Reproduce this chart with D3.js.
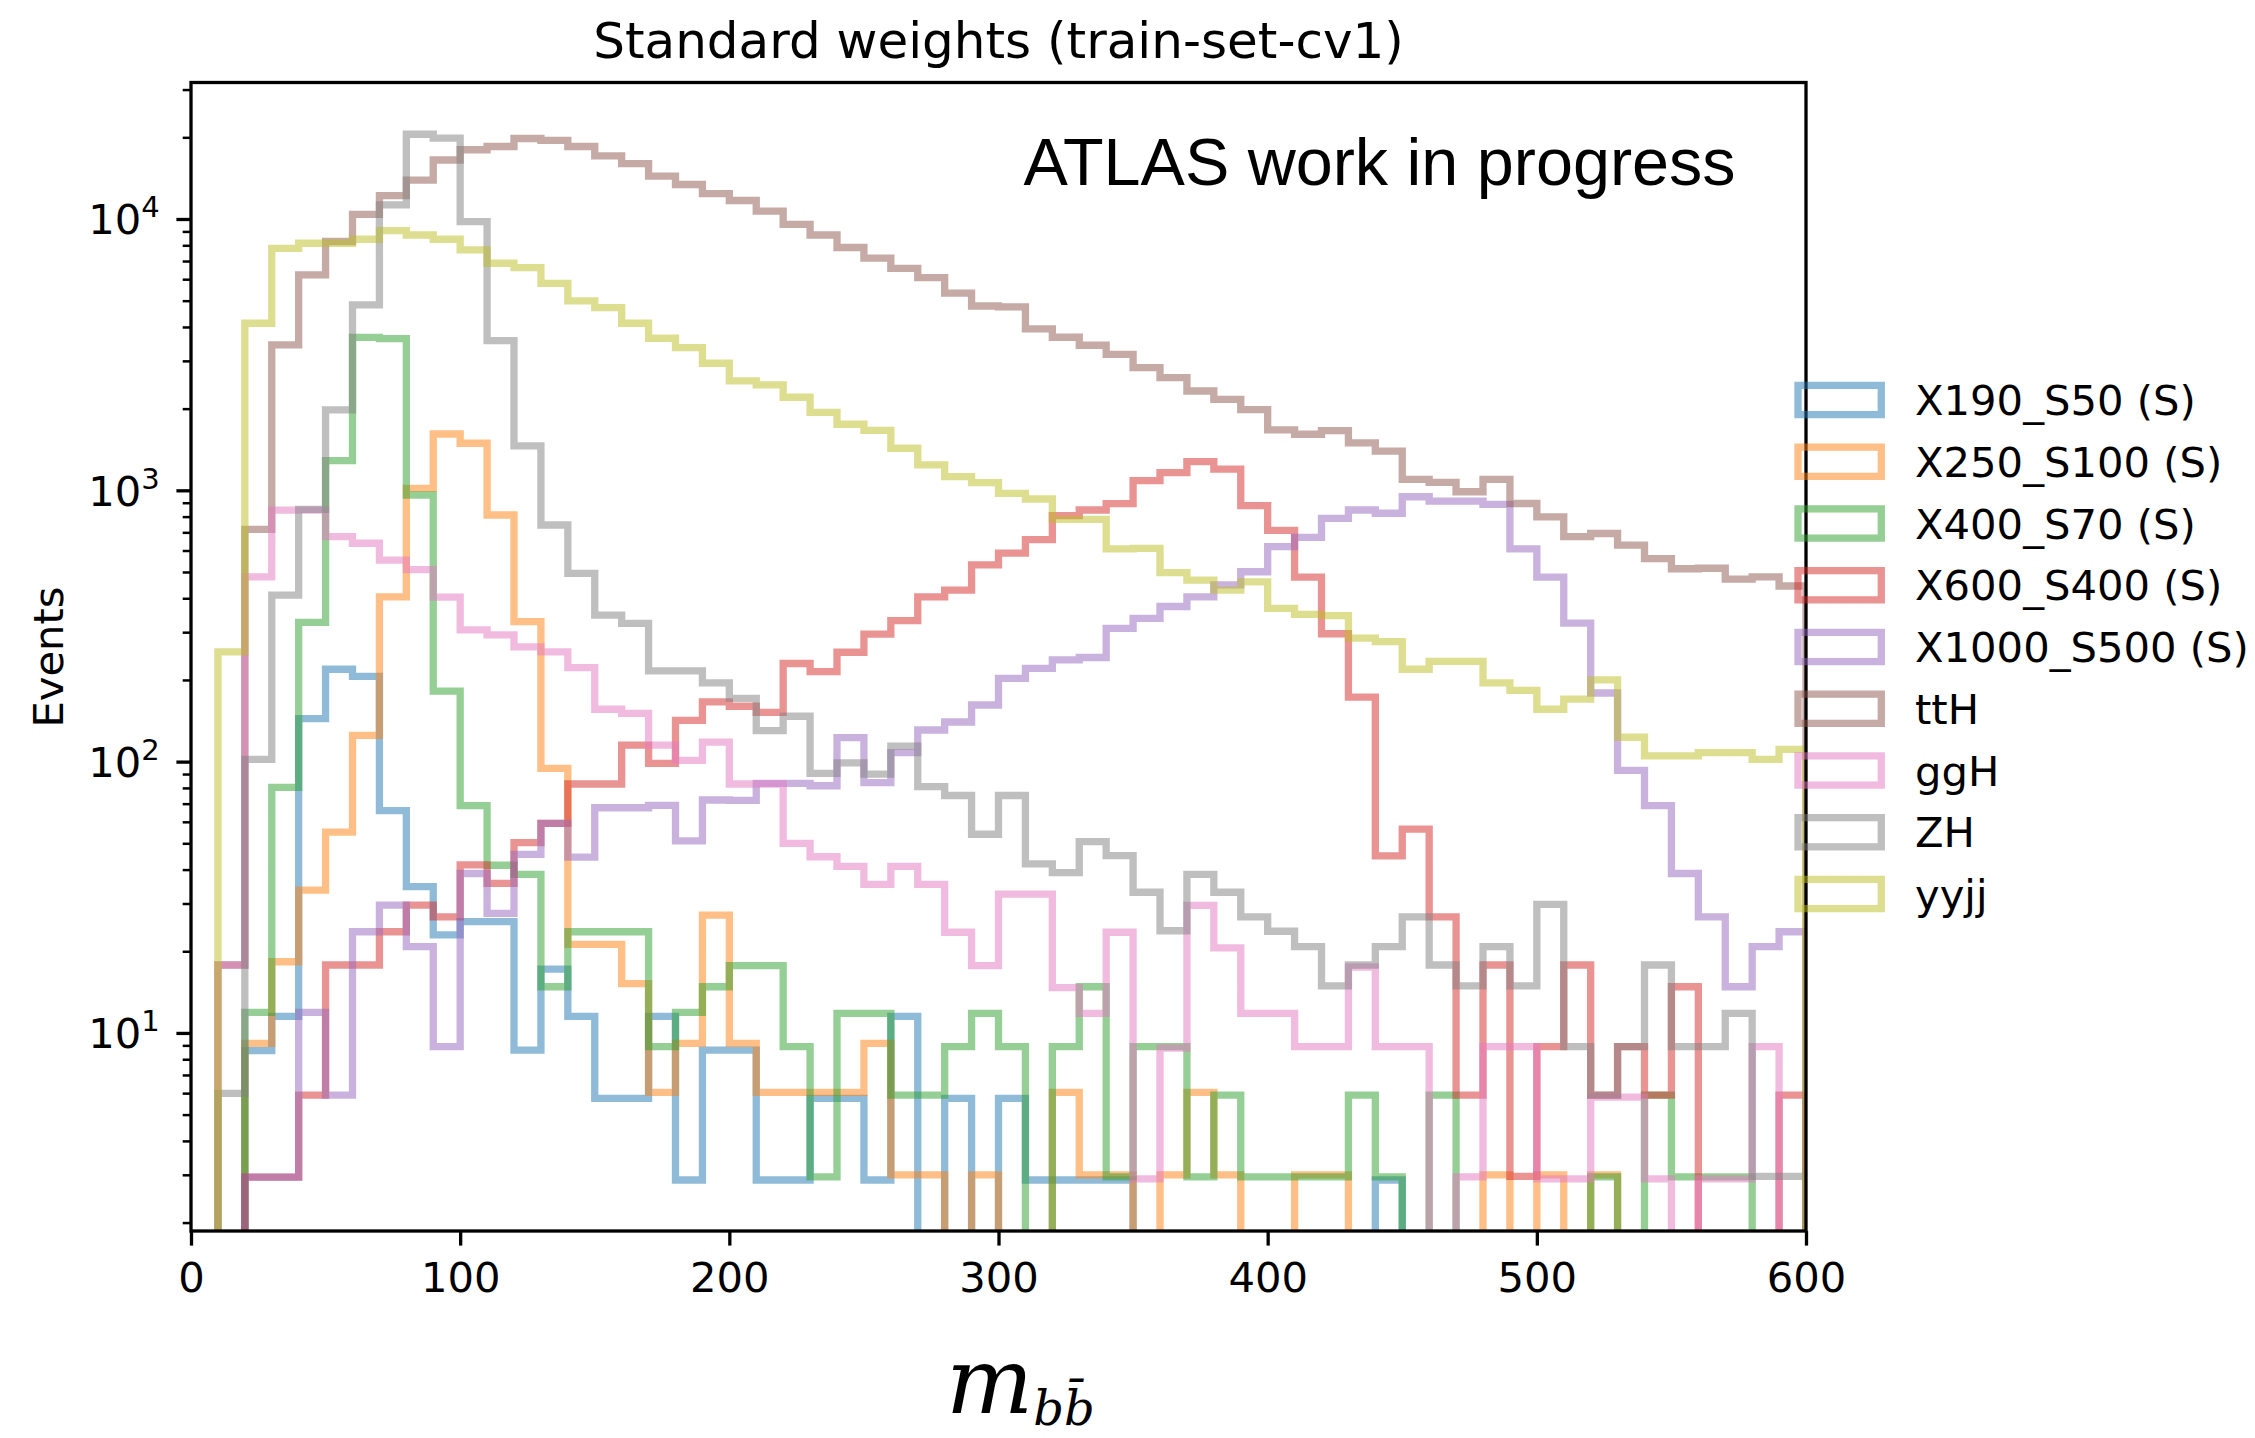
<!DOCTYPE html>
<html><head><meta charset="utf-8">
<script src="https://cdn.jsdelivr.net/npm/d3@7"></script>
<style>body{margin:0;background:#fff;}</style>
</head><body>
<svg id="c" width="2255" height="1438" xmlns="http://www.w3.org/2000/svg"></svg>
<script>
// ---------- data ----------
const binEdges = d3.range(0, 601, 10);
const seriesNames = ["X190_S50 (S)","X250_S100 (S)","X400_S70 (S)","X600_S400 (S)","X1000_S500 (S)","ttH","ggH","ZH","yyjj"];
const seriesColors = ["#1f77b4","#ff7f0e","#2ca02c","#d62728","#9467bd","#8c564b","#e377c2","#7f7f7f","#bcbd22"];
const xTickValues = [0,100,200,300,400,500,600];
const yMajorTicks = [10,100,1000,10000];
const yMajorLabels = [["10","1"],["10","2"],["10","3"],["10","4"]];

const x190_s50 = [0,0,8.6,11.5,144,219,206,66,34.6,23,25.7,25.7,8.65,17.2,11.5,5.74,5.74,11.5,2.87,8.65,
  8.65,2.87,2.87,5.74,5.74,2.87,11.5,0,5.74,0,5.74,2.87,2.87,2.87,2.87,0,0,0,0,0,
  0,0,0,0,2.87,0,0,0,0,0,0,0,0,0,0,0,0,0,0,0];
const x250_s100 = [0,0,9.15,18.3,33.6,55,125,405,1017,1613,1491,811,328,94.5,21.2,21.2,15.2,6.04,9.15,27.2,
  9.15,6.04,6.04,6.04,6.04,9.15,3.0,3.0,0,3.0,0,0,6.04,3.0,3.0,0,3.0,6.04,3.0,0,
  0,3.0,3.0,0,0,0,0,0,3.0,0,3.0,0,3.0,0,0,0,0,0,0,0];
const x400_s70 = [0,0,11.9,80.4,326,1287,3664,3625,961,182,68.8,41.5,38.4,14.8,23.6,23.6,23.6,8.9,11.9,14.8,
  17.7,17.7,8.9,2.95,11.8,11.8,5.9,5.9,8.9,11.8,8.9,0,8.9,14.8,2.95,8.9,8.9,2.95,5.9,2.95,
  2.95,2.95,2.95,5.9,2.95,0,5.9,0,0,0,0,0,2.95,0,5.9,2.95,2.95,2.95,0,0];
const x600_s400 = [0,0,2.94,2.94,5.9,17.8,17.8,23.6,29.6,26.8,41.6,35.6,50.3,59.2,82.7,82.7,115,98.6,142,166,
  160,152,230,214.6,253,295,331,405,429,531,587,658,806,846,893,1085,1161,1276,1198,878,
  712,479,296,173,44.9,56.4,26.8,5.9,17.8,2.96,8.9,17.8,5.9,8.9,5.9,14.8,0,0,0,5.9];
const x1000_s500 = [0,0,2.94,2.94,11.9,5.9,23.6,29.6,20.8,8.9,38.7,27.6,45.5,59.2,44.5,67.6,67.6,69,51,72.2,
  72,83.2,83.2,81.5,122.5,83.7,108,130.8,140,161.7,202.7,220.7,237,242,310,337,373,405,448,501,
  620,671,788,846,823,947,913,913,888,608,479,324,179,92.9,68.8,38.7,26.8,14.8,20.8,23.6];
const ttH = [0,17.8,718,3435,6220,8260,10400,12200,13900,16500,18000,18500,19800,19500,18500,17100,16000,14400,13400,12400,
  11700,10700,9560,8730,7850,7170,6580,6080,5330,4780,4740,3935,3665,3425,3170,2833,2603,2323,2165,1983,
  1669,1609,1660,1495,1395,1098,1070,988,1098,894,798,675,693,628,560,514,516,471,480,444];
const ggH = [0,17.8,480,845,845,675,638,553,510,404,306,293,265,254,222,156,150.6,115,101,118,
  82.7,82.7,50,44.6,41.1,35.3,41.1,35.3,23.5,17.7,32.5,32.5,14.7,11.8,23.5,2.9,8.8,29.5,20.6,11.8,
  11.8,8.9,8.9,17.5,8.9,8.9,0,2.95,8.9,8.9,2.9,2.9,5.8,5.8,2.9,0,2.9,2.9,8.9,0];
const ZH = [0,5.99,102,411,851,1978,4823,11270,20530,19850,9780,3565,1457,745,494,347,323,216,216,195,
  171,130,147,90.5,99,90,114,80.9,75,54,75,42,39,50.7,45,33,23.8,38.4,33,26.8,
  23.7,20.8,14.9,17.8,20.8,26.8,17.8,14.9,20.8,14.9,29.8,8.9,5.9,8.9,17.8,8.9,8.9,11.8,2.96,2.96];
const yyjj = [0,254,4128,7800,8140,8140,8420,9060,8730,8420,7690,6870,6620,5795,4990,4715,4128,3634,3357,2940,
  2530,2445,2203,1939,1752,1664,1429,1240,1123,1067,975,929,781,781,608,611,497,467,429,460,
  367,349,345,285,277,219,234,234,195,183,156,170,200,123,105,105,108,108,102,111];

const seriesValues = [x190_s50,x250_s100,x400_s70,x600_s400,x1000_s500,ttH,ggH,ZH,yyjj];

// ---------- layout ----------
const L = 191, R = 1806, T = 82.5, B = 1231;
const svg = d3.select("#c");
svg.append("rect").attr("width",2255).attr("height",1438).attr("fill","#fff");

const x = d3.scaleLinear().domain([0,600]).range([L,R]);
const y = d3.scaleLog().domain([1.862,31850]).range([B,T]);

svg.append("defs").append("clipPath").attr("id","clip")
  .append("rect").attr("x",L).attr("y",T).attr("width",R-L).attr("height",B-T);

const gLines = svg.append("g").attr("clip-path","url(#clip)");
const line = d3.line()
  .x(d => x(d[0]))
  .y(d => d[1] > 0 ? y(d[1]) : B + 40);

seriesValues.forEach((vals,k) => {
  const pts = [[binEdges[0],0]];
  vals.forEach((v,i) => { pts.push([binEdges[i],v]); pts.push([binEdges[i+1],v]); });
  pts.push([binEdges[binEdges.length-1],0]);
  gLines.append("path")
    .attr("d", line(pts))
    .attr("fill","none")
    .attr("stroke", seriesColors[k])
    .attr("stroke-opacity", 0.5)
    .attr("stroke-width", 7.3)
    .attr("stroke-linejoin","miter")
    .attr("stroke-linecap","butt");
});

// ---------- axes ----------
const tickFont = "'DejaVu Sans', sans-serif";
const xAxis = d3.axisBottom(x).tickValues(xTickValues).tickSize(14.6).tickPadding(14.6)
  .tickFormat(d3.format("d"));
const gx = svg.append("g").attr("transform",`translate(0,${B})`).call(xAxis);
gx.select(".domain").remove();
gx.selectAll(".tick line").attr("stroke","#000").attr("stroke-width",3.3);
gx.selectAll(".tick text").attr("font-family",tickFont).attr("font-size",41.7).attr("fill","#000")
  .attr("dy",null).attr("transform",null)
  .attr("y", 14.6+14.6+31.7);

// minor y ticks
const minorVals = [];
for (let e = 0; e <= 4; e++) for (let m = 2; m <= 9; m++) {
  const v = m * Math.pow(10,e);
  if (v >= y.domain()[0] && v <= y.domain()[1]) minorVals.push(v);
}
const yMinor = d3.axisLeft(y).tickValues(minorVals).tickSize(8.3).tickFormat("");
const gym = svg.append("g").attr("transform",`translate(${L},0)`).call(yMinor);
gym.select(".domain").remove();
gym.selectAll(".tick line").attr("stroke","#000").attr("stroke-width",2.5);

const yMajor = d3.axisLeft(y).tickValues(yMajorTicks).tickSize(14.6).tickPadding(14.6).tickFormat("");
const gy = svg.append("g").attr("transform",`translate(${L},0)`).call(yMajor);
gy.select(".domain").remove();
gy.selectAll(".tick line").attr("stroke","#000").attr("stroke-width",3.3);
gy.selectAll(".tick").each(function(d,i){
  const t = d3.select(this).append("text")
    .attr("x", -14.6-14.6-2).attr("y", 15)
    .attr("text-anchor","end")
    .attr("font-family",tickFont).attr("font-size",41.7).attr("fill","#000");
  t.append("tspan").text(yMajorLabels[i][0]);
  t.append("tspan").attr("font-size",29).attr("dy",-17).text(yMajorLabels[i][1]);
});

// frame
svg.append("rect").attr("x",L).attr("y",T).attr("width",R-L).attr("height",B-T)
  .attr("fill","none").attr("stroke","#000").attr("stroke-width",3.3);

// ---------- texts ----------
svg.append("text").attr("x",(L+R)/2).attr("y",58).attr("text-anchor","middle")
  .attr("font-family",tickFont).attr("font-size",50).attr("fill","#000")
  .text("Standard weights (train-set-cv1)");

svg.append("text").attr("x",1023.5).attr("y",184.5)
  .attr("font-family","'Liberation Sans', Arial, sans-serif").attr("font-size",66.5).attr("fill","#000")
  .text("ATLAS work in progress");

svg.append("text").attr("transform","translate(63,657) rotate(-90)").attr("text-anchor","middle")
  .attr("font-family",tickFont).attr("font-size",41.7).attr("fill","#000").text("Events");

const xl = svg.append("text").attr("x",946).attr("y",1413)
  .attr("font-family","'DejaVu Serif', serif").attr("font-style","italic")
  .attr("font-size",92).attr("fill","#000");
xl.append("tspan").text("m");
xl.append("tspan").attr("font-size",48).attr("dy",12).text("b\u0062\u0304");

// ---------- legend ----------
const lg = svg.append("g");
seriesNames.forEach((name,i) => {
  const cy = 400 + i*61.75;
  lg.append("rect").attr("x",1798).attr("y",cy-14.6).attr("width",83.3).attr("height",29.2)
    .attr("fill","none").attr("stroke",seriesColors[i]).attr("stroke-opacity",0.5).attr("stroke-width",7.3);
  lg.append("text").attr("x",1915).attr("y",cy+15.2)
    .attr("font-family",tickFont).attr("font-size",41.7).attr("fill","#000").text(name);
});
</script>
</body></html>
